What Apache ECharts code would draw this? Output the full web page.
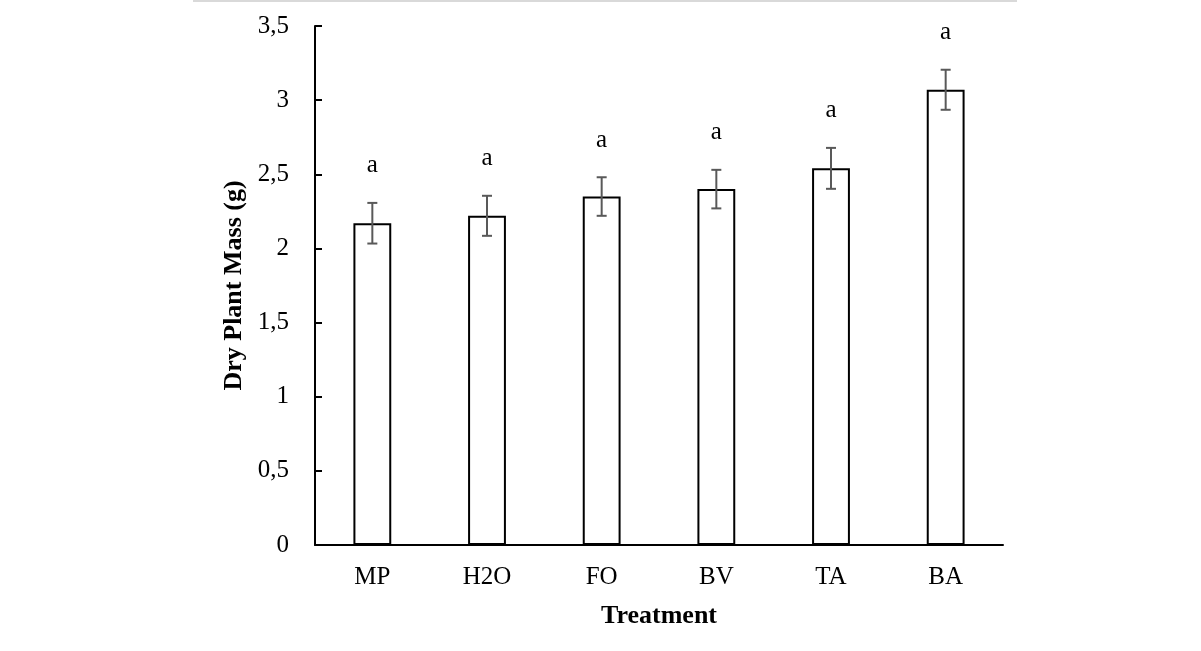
<!DOCTYPE html>
<html>
<head>
<meta charset="utf-8">
<script src="https://cdn.jsdelivr.net/npm/echarts@6/dist/echarts.min.js"></script>
<style>
  html, body { margin: 0; padding: 0; background: #fff; }
  #chart { width: 1201px; height: 651px; }
</style>
</head>
<body>
<div id="chart"></div>
<script>
// 数据
var treatments = ['MP', 'H2O', 'FO', 'BV', 'TA', 'BA'];
var massValues = [2.17, 2.22, 2.35, 2.40, 2.54, 3.07];
var massErrors = [0.137, 0.135, 0.13, 0.13, 0.138, 0.135];
var groupLetters = ['a', 'a', 'a', 'a', 'a', 'a'];
var yTicks = [0, 0.5, 1, 1.5, 2, 2.5, 3, 3.5];

var font = '"Liberation Serif", "Times New Roman", serif';

var errorData = treatments.map(function (t, i) {
  return [i, massValues[i], massErrors[i]];
});

var myChart = echarts.init(document.getElementById('chart'));
var option = {
  backgroundColor: '#fff',
  animation: false,
  graphic: [{
    type: 'line',
    shape: { x1: 193, y1: 1, x2: 1017, y2: 1 },
    style: { stroke: '#d9d9d9', lineWidth: 2 }
  }],
  grid: { left: 315, right: 198, top: 26, bottom: 106 },
  xAxis: {
    type: 'category',
    data: treatments,
    name: 'Treatment',
    nameLocation: 'middle',
    nameGap: 58,
    nameTextStyle: { fontFamily: font, fontSize: 26, fontWeight: 'bold', color: '#000' },
    axisLine: { lineStyle: { color: '#000', width: 2 } },
    axisTick: { show: false },
    axisLabel: { fontFamily: font, fontSize: 25, color: '#000', margin: 20 }
  },
  yAxis: {
    type: 'value',
    min: 0,
    max: 3.5,
    interval: 0.5,
    name: 'Dry Plant Mass (g)',
    nameLocation: 'middle',
    nameGap: 57,
    nameTextStyle: { fontFamily: font, fontSize: 26, fontWeight: 'bold', color: '#000' },
    axisLine: { show: true, lineStyle: { color: '#000', width: 2 } },
    axisTick: { show: true, inside: true, length: 7, lineStyle: { color: '#000', width: 2 } },
    splitLine: { show: false },
    axisLabel: {
      fontFamily: font, fontSize: 25, color: '#000', margin: 26,
      formatter: function (v) {
        return yTicks.indexOf(v) >= 0 ? String(v).replace('.', ',') : '';
      }
    }
  },
  series: [{
    type: 'bar',
    data: massValues,
    barWidth: '33%',
    itemStyle: { color: '#fff', borderColor: '#000', borderWidth: 2 }
  }, {
    type: 'custom',
    data: errorData,
    z: 10,
    renderItem: function (params, api) {
      var x = api.value(0);
      var v = api.value(1);
      var e = api.value(2);
      var hi = api.coord([x, v + e]);
      var lo = api.coord([x, v - e]);
      var cap = 5;
      var style = { stroke: '#595959', lineWidth: 2 };
      return {
        type: 'group',
        children: [
          { type: 'line', shape: { x1: hi[0], y1: hi[1], x2: lo[0], y2: lo[1] }, style: style },
          { type: 'line', shape: { x1: hi[0] - cap, y1: hi[1], x2: hi[0] + cap, y2: hi[1] }, style: style },
          { type: 'line', shape: { x1: lo[0] - cap, y1: lo[1], x2: lo[0] + cap, y2: lo[1] }, style: style },
          {
            type: 'text',
            style: {
              text: groupLetters[params.dataIndex],
              x: hi[0], y: hi[1] - 37,
              align: 'center', verticalAlign: 'middle',
              font: '25px ' + font, fill: '#000'
            }
          }
        ]
      };
    }
  }]
};
myChart.setOption(option);
window.addEventListener('resize', function () {
  myChart.resize();
});
</script>
</body>
</html>
